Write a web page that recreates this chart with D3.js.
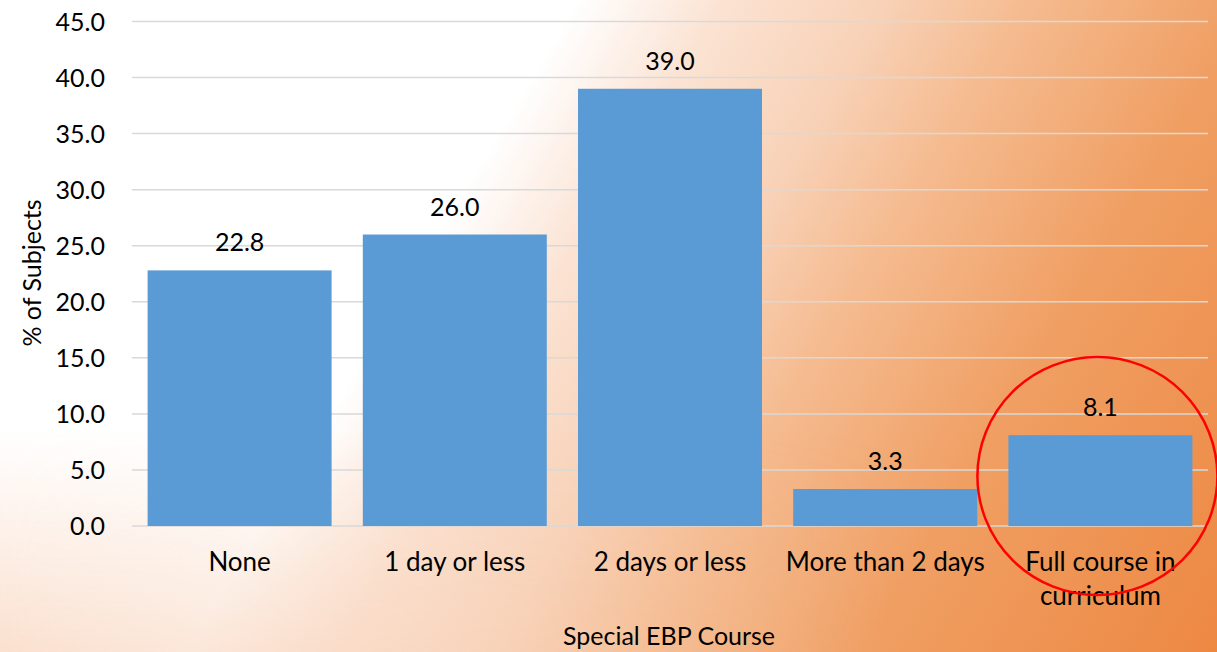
<!DOCTYPE html>
<html>
<head>
<meta charset="utf-8">
<script src="https://cdn.jsdelivr.net/npm/d3@7"></script>
<style>
  html, body { margin: 0; padding: 0; overflow: hidden; }
  svg { display: block; }
  text { font-family: Lato, "Open Sans", sans-serif; fill: #000; }
</style>
</head>
<body>
<svg id="chart" width="1217" height="652"></svg>
<script>
// Share of subjects by amount of special EBP coursework
const categories = ["None", "1 day or less", "2 days or less", "More than 2 days", "Full course in curriculum"];
const values = [22.8, 26.0, 39.0, 3.3, 8.1];
const yTicks = [0, 5, 10, 15, 20, 25, 30, 35, 40, 45];
const highlighted = "Full course in curriculum";

const W = 1217, H = 652;
const svg = d3.select("#chart");
const defs = svg.append("defs");

function addStops(g, stops) {
  stops.forEach(([o, c, a]) => g.append("stop").attr("offset", o).attr("stop-color", c)
    .attr("stop-opacity", a === undefined ? 1 : a));
}

// background wash: white on the left, warming to orange toward the right
const bg = defs.append("linearGradient").attr("id", "bg").attr("gradientUnits", "userSpaceOnUse")
  .attr("x1", 0).attr("y1", 0).attr("x2", 1181).attr("y2", 708);
addStops(bg, [[0, "#ffffff"], [0.36, "#ffffff"], [0.45, "#fbe3d3"], [0.55, "#f8d2b8"],
  [0.64, "#f5bb90"], [0.78, "#f09f63"], [1, "#ed8843"]]);
svg.append("rect").attr("width", W).attr("height", H).attr("fill", "url(#bg)");

// soft peach tint rising from the lower-left edge
const tint = defs.append("linearGradient").attr("id", "tint").attr("gradientUnits", "userSpaceOnUse")
  .attr("x1", 0).attr("y1", 430).attr("x2", 0).attr("y2", 652);
addStops(tint, [[0, "#f9d6bf", 0], [1, "#f9d6bf", 0.75]]);
const fade = defs.append("linearGradient").attr("id", "fade").attr("gradientUnits", "userSpaceOnUse")
  .attr("x1", 0).attr("y1", 0).attr("x2", 900).attr("y2", 0);
addStops(fade, [[0, "#ffffff"], [1, "#000000"]]);
defs.append("mask").attr("id", "fadeMask").attr("maskUnits", "userSpaceOnUse")
  .attr("x", 0).attr("y", 0).attr("width", W).attr("height", H)
  .append("rect").attr("width", W).attr("height", H).attr("fill", "url(#fade)");
svg.append("rect").attr("width", W).attr("height", H).attr("fill", "url(#tint)").attr("mask", "url(#fadeMask)");

const plot = { left: 132, right: 1208, top: 21.5, bottom: 526 };

const x = d3.scaleBand().domain(categories)
  .range([plot.left, plot.right]).paddingInner(0.145).paddingOuter(0.0725);
const y = d3.scaleLinear().domain([0, 45]).range([plot.bottom, plot.top]);

// gridlines
svg.append("g").selectAll("line").data(yTicks).join("line")
  .attr("x1", plot.left).attr("x2", plot.right)
  .attr("y1", d => y(d)).attr("y2", d => y(d))
  .attr("stroke", "#d9d9d9").attr("stroke-width", 1.5);

// y axis labels
const yAxis = d3.axisLeft(y).tickValues(yTicks).tickFormat(d3.format(".1f")).tickSize(0).tickPadding(0);
const gy = svg.append("g").attr("transform", `translate(105,0)`).call(yAxis);
gy.select(".domain").remove();
gy.selectAll("text").attr("font-size", 25).attr("font-family", "Lato, sans-serif").attr("fill", "#000").attr("dy", "0.35em");

// bars
svg.append("g").selectAll("rect").data(values).join("rect")
  .attr("x", (d, i) => x(categories[i]))
  .attr("width", x.bandwidth())
  .attr("y", d => y(d))
  .attr("height", d => y(0) - y(d))
  .attr("fill", "#5b9bd5");

// value labels
svg.append("g").selectAll("text").data(values).join("text")
  .attr("x", (d, i) => x(categories[i]) + x.bandwidth() / 2)
  .attr("y", d => y(d) - 19)
  .attr("text-anchor", "middle").attr("font-size", 25)
  .text(d => d3.format(".1f")(d));

// category labels, wrapped to fit the band
const xAxis = d3.axisBottom(x).tickSize(0).tickPadding(0);
const gx = svg.append("g").attr("transform", `translate(0,${plot.bottom})`).call(xAxis);
gx.select(".domain").remove();
gx.selectAll("text").each(function (d) {
  const t = d3.select(this).text(null).attr("font-size", 26)
    .attr("font-family", "Lato, sans-serif").attr("fill", "#000").attr("y", 0).attr("dy", 0);
  const lines = d === highlighted ? ["Full course in", "curriculum"] : [d];
  lines.forEach((ln, k) => t.append("tspan").attr("x", 0).attr("y", 45 + k * 34).text(ln));
});

// axis titles
svg.append("text").attr("x", 669).attr("y", 645).attr("text-anchor", "middle")
  .attr("font-size", 25).text("Special EBP Course");
svg.append("text").attr("transform", "translate(41,273) rotate(-90)")
  .attr("text-anchor", "middle").attr("font-size", 25).text("% of Subjects");

// emphasis ring around the full-course bar
const hx = x(highlighted) + x.bandwidth() / 2;
svg.append("ellipse").attr("cx", hx - 3).attr("cy", 476).attr("rx", 120).attr("ry", 119)
  .attr("fill", "none").attr("stroke", "#ff0000").attr("stroke-width", 2.5);
</script>
</body>
</html>
